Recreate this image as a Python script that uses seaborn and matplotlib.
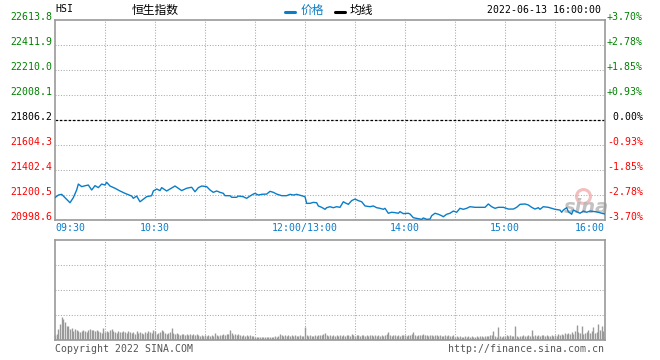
"""
HSI intraday chart (Sina style): price line on top, volume bars below.
"""

import matplotlib
matplotlib.use('Agg')
import matplotlib.pyplot as plt
import matplotlib.transforms as mtransforms
import numpy as np
import pandas as pd
import seaborn as sns


# ─── Data ─────────────────────────────────────────────────────────────────────

prev_close = 21806.2
price_ticks = [20998.6, 21200.5, 21402.4, 21604.3, 21806.2,
               22008.1, 22210.0, 22411.9, 22613.8]

# minutes since 09:30, lunch break removed (12:00 == 13:00 == 150)
time_labels = ['09:30', '10:30', '12:00/13:00', '14:00', '15:00', '16:00']
time_label_pos = [0, 60, 150, 210, 270, 330]

minutes = [
    0, 2, 4, 6, 9, 11, 13, 14, 16, 18, 20, 22, 24, 26, 28, 30, 31, 33, 36, 39,
    42, 46, 47, 49, 51, 53, 55, 58, 59, 61, 63, 64, 67, 69, 72, 74, 76, 79, 82, 84,
    86, 88, 91, 93, 95, 97, 99, 101, 102, 105, 106, 109, 110, 113, 114, 115, 117, 119, 120, 122,
    124, 127, 129, 131, 133, 136, 139, 141, 143, 145, 148, 150, 151, 153, 155, 157, 158, 160, 162, 163,
    165, 167, 169, 171, 173, 174, 176, 178, 180, 182, 184, 186, 189, 191, 193, 195, 197, 198, 200, 202,
    204, 206, 207, 209, 212, 213, 215, 217, 220, 221, 223, 225, 226, 228, 230, 232, 233, 235, 237, 239,
    241, 243, 245, 247, 249, 252, 255, 258, 260, 262, 264, 266, 269, 272, 275, 277, 279, 282, 284, 286,
    288, 290, 291, 293, 296, 298, 300, 303, 304, 305, 307, 308, 310, 311, 313, 315, 317, 319, 321, 324,
    326, 328, 330,
]
prices = [
    21179, 21200, 21206, 21179, 21138, 21179, 21241, 21289, 21268, 21275,
    21281, 21241, 21276, 21260, 21289, 21281, 21303, 21273, 21255, 21233,
    21214, 21192, 21174, 21192, 21146, 21166, 21187, 21195, 21233, 21249,
    21236, 21260, 21233, 21249, 21273, 21255, 21236, 21255, 21263, 21227,
    21260, 21273, 21268, 21241, 21222, 21233, 21222, 21214, 21195, 21195,
    21182, 21182, 21192, 21187, 21179, 21174, 21192, 21208, 21214, 21200,
    21206, 21208, 21230, 21222, 21208, 21195, 21195, 21206, 21200, 21206,
    21195, 21187, 21133, 21133, 21141, 21138, 21112, 21101, 21085, 21098,
    21106, 21098, 21106, 21101, 21146, 21138, 21125, 21155, 21168, 21155,
    21146, 21112, 21106, 21112, 21098, 21093, 21085, 21093, 21053, 21061,
    21058, 21053, 21066, 21050, 21053, 21047, 21017, 21012, 21004, 21015,
    21004, 21006, 21033, 21053, 21045, 21033, 21025, 21045, 21053, 21071,
    21061, 21093, 21085, 21093, 21106, 21101, 21101, 21101, 21128, 21106,
    21093, 21101, 21101, 21087, 21087, 21101, 21125, 21128, 21120, 21101,
    21087, 21098, 21085, 21106, 21101, 21093, 21085, 21079, 21061, 21079,
    21098, 21066, 21045, 21079, 21066, 21053, 21071, 21061, 21071, 21066,
    21061, 21053, 21047,
]

# per-minute volume, relative units (panel height = 100)
volume = [
    5, 6, 11, 16, 23, 21, 18, 14, 14, 11,
    12, 9, 11, 10, 9, 8, 9, 10, 9, 8,
    10, 11, 10, 10, 9, 10, 9, 8, 7, 12,
    8, 9, 8, 10, 11, 9, 8, 7, 9, 8,
    8, 9, 8, 7, 9, 8, 7, 8, 6, 9,
    7, 8, 7, 6, 8, 7, 9, 8, 7, 10,
    9, 6, 7, 8, 10, 9, 7, 6, 7, 8,
    12, 7, 6, 7, 6, 5, 6, 6, 5, 6,
    5, 6, 5, 6, 5, 6, 5, 4, 5, 4,
    5, 4, 5, 4, 5, 4, 7, 5, 4, 5,
    5, 6, 5, 6, 6, 10, 7, 5, 6, 5,
    6, 5, 4, 5, 4, 5, 4, 5, 4, 4,
    3, 3, 3, 3, 3, 3, 3, 3, 3, 3,
    3, 3, 4, 3, 4, 6, 5, 4, 5, 4,
    5, 4, 5, 4, 5, 4, 4, 5, 4, 4,
    13, 5, 4, 5, 4, 4, 5, 4, 5, 5,
    5, 6, 7, 5, 4, 5, 4, 5, 4, 5,
    4, 5, 4, 5, 4, 5, 5, 4, 6, 5,
    4, 5, 5, 4, 5, 5, 4, 5, 4, 5,
    5, 4, 5, 4, 5, 4, 5, 4, 5, 6,
    8, 5, 4, 5, 5, 4, 5, 4, 5, 5,
    5, 4, 5, 5, 6, 8, 5, 4, 5, 5,
    5, 6, 5, 5, 4, 5, 5, 4, 5, 5,
    4, 5, 4, 4, 5, 4, 5, 4, 4, 5,
    3, 4, 3, 4, 3, 3, 4, 3, 4, 3,
    4, 3, 3, 4, 3, 4, 4, 3, 4, 4,
    4, 5, 5, 9, 4, 3, 13, 4, 3, 4,
    4, 5, 4, 5, 4, 4, 14, 4, 3, 4,
    4, 5, 4, 4, 5, 4, 10, 4, 5, 4,
    5, 4, 5, 5, 4, 5, 4, 4, 5, 4,
    5, 4, 6, 5, 6, 5, 7, 6, 7, 6,
    8, 6, 9, 15, 8, 7, 14, 6, 7, 8,
    10, 7, 9, 13, 7, 8, 16, 10, 14, 9,
    15,
]


# ─── Style ────────────────────────────────────────────────────────────────────

sns.set_style('white')
plt.rcParams['font.family'] = ['DejaVu Sans Mono', 'Noto Sans CJK SC']

GREEN = '#008000'
RED = '#ff0000'
BLUE = '#0a7dc8'
GRID = '#aaaaaa'
BORDER = '#999999'
FS = 7.1


def dress_axes(ax, n_rows):
    for s in ax.spines.values():
        s.set_color(BORDER)
        s.set_linewidth(1.2)
    ax.set_xlim(0, 330)
    ax.set_xticks([])
    ax.set_yticks([])
    ax.set_xlabel('')
    ax.set_ylabel('')
    lo, hi = ax.get_ylim()
    for m in range(30, 330, 30):
        ax.axvline(m, color=GRID, lw=0.75, ls=(0, (1, 1.6)), zorder=0)
    for y in np.linspace(lo, hi, n_rows + 1)[1:-1]:
        ax.axhline(y, color=GRID, lw=0.75, ls=(0, (1, 1.6)), zorder=0)


# ─── Figure ───────────────────────────────────────────────────────────────────

fig = plt.figure(figsize=(6.6, 3.6), dpi=100)
ax = fig.add_axes([55 / 660, 1 - 220 / 360, 550 / 660, 200 / 360])
axv = fig.add_axes([55 / 660, 1 - 340 / 360, 550 / 660, 100 / 360])

df = pd.DataFrame({'minute': minutes, 'price': prices})
sns.lineplot(data=df, x='minute', y='price', ax=ax, color=BLUE, lw=1.0,
             estimator=None, zorder=3)
ax.set_ylim(price_ticks[0], price_ticks[-1])
dress_axes(ax, 8)
ax.axhline(prev_close, color='black', lw=0.9, ls=(0, (2, 1.5)), zorder=1)

# price labels (left) and percent labels (right), baseline on gridline
side = mtransforms.blended_transform_factory(fig.transFigure, ax.transData)
for p in price_ticks:
    if abs(p - prev_close) < 0.05:
        col = 'black'
    else:
        col = GREEN if p > prev_close else RED
    pct = (p - prev_close) / prev_close * 100
    pct_txt = ' 0.00%' if abs(pct) < 0.005 else f'{pct:+.2f}%'
    fig.text(52 / 660, p, f'{p:.1f}', transform=side, ha='right',
             va='baseline', fontsize=FS, color=col)
    fig.text(607 / 660, p, pct_txt, transform=side, ha='left',
             va='baseline', fontsize=FS, color=col)

# time labels
bottom = mtransforms.blended_transform_factory(ax.transData, fig.transFigure)
for lab, m in zip(time_labels, time_label_pos):
    ha = 'left' if m == 0 else ('right' if m == 330 else 'center')
    fig.text(m, 1 - 228 / 360, lab, transform=bottom, ha=ha, va='center',
             fontsize=FS, color=BLUE)

# sina watermark
ax.plot([317], [21190], 'o', ms=10, mfc='none', mec='#f0a8a8', mew=2.2,
        alpha=0.75, zorder=2)
ax.text(319, 21100, 'sina', fontsize=14, fontweight='bold', style='italic',
        color='#b8b8b8', alpha=0.85, family='DejaVu Sans', ha='center',
        va='center', zorder=2)

# volume bars
axv.vlines(range(len(volume)), 0, volume, color='#999999', lw=1.0)
axv.set_ylim(0, 100)
dress_axes(axv, 4)

# header
fig.text(55 / 660, 1 - 9 / 360, 'HSI', ha='left', va='center',
         fontsize=FS, color='black')
fig.text(155 / 660, 1 - 10 / 360, '恒生指数', ha='center', va='center',
         fontsize=8.5, color='black', family=['Noto Sans CJK SC'])
fig.add_artist(plt.Line2D([285 / 660, 295 / 660], [1 - 11.5 / 360] * 2,
                          color=BLUE, lw=2.2))
fig.text(301 / 660, 1 - 10 / 360, '价格', ha='left', va='center',
         fontsize=8.5, color=BLUE, family=['Noto Sans CJK SC'])
fig.add_artist(plt.Line2D([335 / 660, 345 / 660], [1 - 11.5 / 360] * 2,
                          color='black', lw=2.2))
fig.text(350 / 660, 1 - 10 / 360, '均线', ha='left', va='center',
         fontsize=8.5, color='black', family=['Noto Sans CJK SC'])
fig.text(601 / 660, 1 - 10 / 360, '2022-06-13 16:00:00', ha='right',
         va='center', fontsize=FS, color='black')

# footer
fig.text(55 / 660, 1 - 349 / 360, 'Copyright 2022 SINA.COM', ha='left',
         va='center', fontsize=FS, color='#555555')
fig.text(604 / 660, 1 - 349 / 360, 'http://finance.sina.com.cn', ha='right',
         va='center', fontsize=FS, color='#555555')

fig.savefig('out.png', dpi=100)
